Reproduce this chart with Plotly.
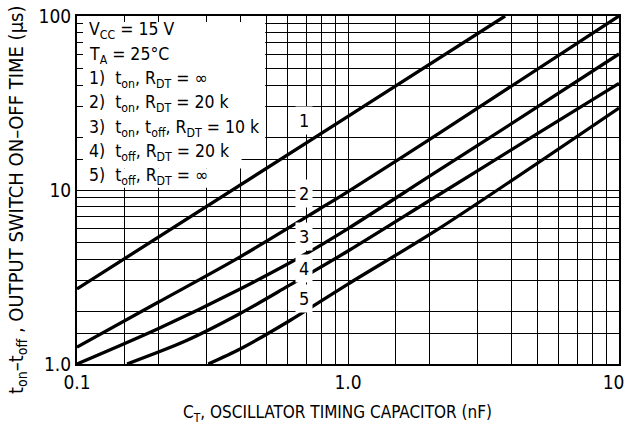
import math
import plotly.graph_objects as go

# ---- data ----
c1_x = [0.1, 1.0, 3.8]
c1_y = [2.7, 26.5, 100]

c2_x = [0.1, 0.2, 0.4, 0.787, 1.0, 2.18, 10]
c2_y = [1.25, 2.27, 4.13, 7.8, 9.8, 21.3, 100]

c3_x = [0.1, 0.2, 0.4, 0.7, 1.0, 2.0, 5.0, 10]
c3_y = [1.0, 1.6, 2.7, 4.3, 6.0, 12.0, 30.0, 60.5]

c4_x = [0.153, 0.25, 0.4, 0.6, 1.0, 2.0, 5.0, 10]
c4_y = [1.0, 1.35, 1.95, 2.8, 4.46, 8.7, 21.1, 41]

c5_x = [0.305, 0.4, 0.6, 1.0, 2.18, 10]
c5_y = [1.0, 1.22, 1.75, 2.88, 6.04, 29.6]

curve_labels = ["1", "2", "3", "4", "5"]
label_y = [25.2, 9.6, 5.37, 3.56, 2.39]
label_x = 0.69

x_tickvals = [0.1, 1.0, 10]
x_ticktext = ["0.1", "1.0", "10\u00a0\u00a0"]
y_tickvals = [1, 10, 100]
y_ticktext = ["1.0", "10", "100"]

x_minor = [0.15, 0.2, 0.3, 0.4, 0.5, 0.6, 0.7, 0.8, 0.9,
           1.5, 2, 3, 4, 5, 6, 7, 8, 9]
y_minor = [1.5, 2, 3, 4, 5, 6, 7, 8, 9,
           15, 20, 30, 40, 50, 60, 70, 80, 90]

legend_lines = [
    "V<sub>CC</sub> = 15 V",
    "T<sub>A</sub> = 25°C",
    "1)\u00a0 t<sub>on</sub>, R<sub>DT</sub> = ∞",
    "2)\u00a0 t<sub>on</sub>, R<sub>DT</sub> = 20 k",
    "3)\u00a0 t<sub>on</sub>, t<sub>off</sub>, R<sub>DT</sub> = 10 k",
    "4)\u00a0 t<sub>off</sub>, R<sub>DT</sub> = 20 k",
    "5)\u00a0 t<sub>off</sub>, R<sub>DT</sub> = ∞",
]
x_title = "C<sub>T</sub>, OSCILLATOR TIMING CAPACITOR (nF)"
y_title = "t<sub>on</sub>\u2013t<sub>off</sub> , OUTPUT SWITCH ON\u2013OFF TIME (µs)"

FONT = "DejaVu Sans Condensed, Liberation Sans Narrow, sans-serif"

W, H = 627, 428
ML, MR, MT, MB = 77, 8, 16, 64
PW, PH = W - ML - MR, H - MT - MB

fig = go.Figure()
for xs, ys in [(c1_x, c1_y), (c2_x, c2_y), (c3_x, c3_y), (c4_x, c4_y), (c5_x, c5_y)]:
    fig.add_trace(go.Scatter(x=xs, y=ys, mode="lines",
                             line=dict(color="black", width=3.3, shape="spline", smoothing=0.8),
                             showlegend=False, hoverinfo="skip"))

# white area behind the legend text
for x0, x1, y0, y1 in [(0.1, 0.495, 17.2, 100), (0.1, 0.405, 13.3, 17.2), (0.1, 0.35, 10.3, 13.3)]:
    fig.add_shape(type="rect", xref="x", yref="y", x0=x0, x1=x1, y0=y0, y1=y1,
                  fillcolor="white", line=dict(width=0), layer="between")

for t, yv in zip(curve_labels, label_y):
    fig.add_annotation(x=math.log10(label_x), y=math.log10(yv), xref="x", yref="y",
                       text=t, showarrow=False, bgcolor="white", borderpad=3,
                       font=dict(family=FONT, size=18, color="black"))

# legend text, one line per annotation for exact line spacing (pixel tops)
for i, line in enumerate(legend_lines):
    top_px = 17.5 + 24.3 * i
    fig.add_annotation(x=(87 - ML) / PW, y=(H - MB - top_px) / PH, xref="paper", yref="paper",
                       xanchor="left", yanchor="top", align="left", showarrow=False,
                       text=line, font=dict(family=FONT, size=17.5, color="black"))

# axis titles
fig.add_annotation(x=(337 - ML) / PW, y=(H - MB - 413) / PH, xref="paper", yref="paper",
                   xanchor="center", yanchor="middle", showarrow=False, text=x_title,
                   font=dict(family=FONT, size=17, color="black"))
fig.add_annotation(x=(17 - ML) / PW, y=(H - MB - 200) / PH, xref="paper", yref="paper",
                   xanchor="center", yanchor="middle", textangle=-90, showarrow=False,
                   text=y_title, font=dict(family=FONT, size=20, color="black"))

common = dict(type="log", automargin=False, tickmode="array", ticklabeloverflow="allow",
              showline=True, linecolor="black", linewidth=2, mirror="ticks",
              ticks="inside", ticklen=6, tickcolor="black",
              showgrid=True, gridcolor="black", gridwidth=1,
              tickfont=dict(family=FONT, size=19, color="black"))
fig.update_xaxes(range=[-1, 1], tickvals=x_tickvals, ticktext=x_ticktext,
                 minor=dict(tickmode="array", tickvals=x_minor, ticks="inside", ticklen=6,
                            tickcolor="black", showgrid=True, gridcolor="black", gridwidth=1),
                 **common)
fig.update_yaxes(range=[0, 2], tickvals=y_tickvals, ticktext=y_ticktext,
                 minor=dict(tickmode="array", tickvals=y_minor, ticks="inside", ticklen=6,
                            tickcolor="black", showgrid=True, gridcolor="black", gridwidth=1),
                 **common)

fig.update_layout(width=W, height=H, margin=dict(l=ML, r=MR, t=MT, b=MB),
                  plot_bgcolor="white", paper_bgcolor="white",
                  font=dict(family=FONT, color="black"))

fig.write_html("out.html", config={"displayModeBar": False},
               post_script="document.body.style.margin='0';")
